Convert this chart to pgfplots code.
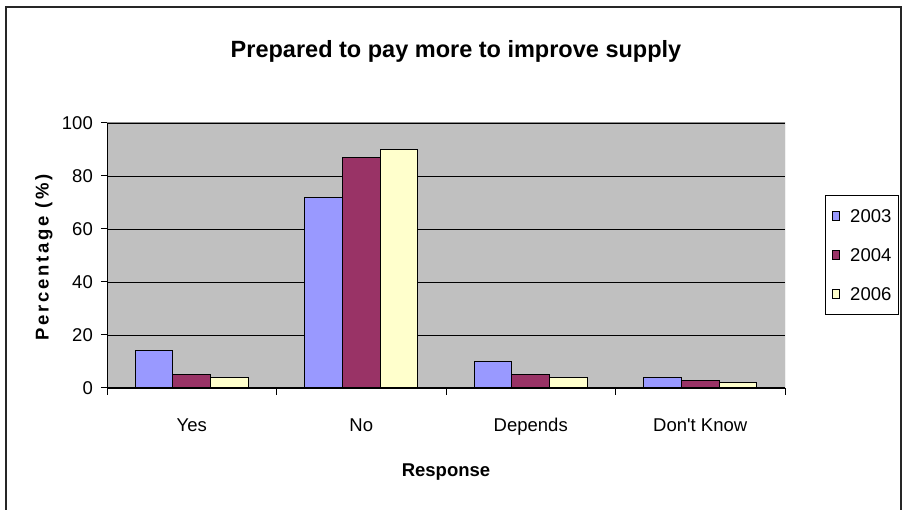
\documentclass[border=0pt]{standalone}
\usepackage{fontspec}
\setmainfont{Liberation Sans}
\usepackage{pgfplots}
\pgfplotsset{compat=1.18}

\definecolor{bgGray}{HTML}{C0C0C0}
\definecolor{c2003}{HTML}{9999FF}
\definecolor{c2004}{HTML}{993366}
\definecolor{c2006}{HTML}{FFFFCC}
\newcommand{\lbl}{\fontsize{18.5bp}{22bp}\selectfont}

\begin{document}
\begin{tikzpicture}
\useasboundingbox (0bp,0bp) rectangle (903bp,510bp);
% chart frame
\draw[line width=1.5bp, color=black!85] (6bp,0bp) -- (6bp,503bp) -- (901bp,503bp) -- (901bp,0bp);

\begin{axis}[
  at={(107bp,122bp)}, anchor=south west,
  scale only axis, width=678bp, height=265bp,
  xmin=-0.5, xmax=3.5, ymin=0, ymax=100,
  axis lines=left, axis line style={-, line width=1bp, black},
  axis background/.style={fill=bgGray},
  ybar=0pt, bar width=37.6bp,
  xtick={0,1,2,3},
  xticklabels={Yes, No, Depends, Don\textquotesingle t Know},
  minor xtick={-0.5,0.5,1.5,2.5,3.5},
  ytick={0,20,40,60,80,100},
  tick align=outside,
  major tick length=6bp, minor tick length=7bp,
  major x tick style={draw=none},
  tick style={black, line width=1bp},
  ymajorgrids, grid style={black, line width=0.9bp},
  /pgf/number format/assume math mode=true,
  tick label style={font=\lbl},
  xticklabel style={anchor=base, inner sep=0pt, yshift=-37bp},
  yticklabel style={inner sep=0pt, xshift=-8bp},
  legend style={
    at={(rel axis cs:1.059,0.7283)}, anchor=north west,
    draw=black, line width=0.8bp, fill=white,
    inner xsep=7bp, inner ysep=1bp, row sep=0pt, column sep=10bp,
    font=\lbl,
    nodes={inner xsep=0pt, inner ysep=13bp, text height=13bp, text depth=0bp},
  },
  legend cell align=left,
  legend image code/.code={\draw[#1, line width=0.8bp] (0bp,-4.5bp) rectangle (7bp,4.5bp);},
]
\addplot[fill=c2003, draw=black, line width=1bp] coordinates {(0,14) (1,72) (2,10) (3,4)};
\addplot[fill=c2004, draw=black, line width=1bp] coordinates {(0,5) (1,87) (2,5) (3,3)};
\addplot[fill=c2006, draw=black, line width=1bp] coordinates {(0,4) (1,90) (2,4) (3,2)};
\legend{2003, 2004, 2006}
% plot-area border on the top and right
\draw[color=black!45, line width=1bp] (rel axis cs:0,1) -- (rel axis cs:1,1) -- (rel axis cs:1,0);
\end{axis}

\node[anchor=base] at (456bp,452bp) {\fontsize{23.5bp}{27bp}\selectfont\bfseries Prepared to pay more to improve supply};
\node[anchor=base] at (446bp,34bp) {\lbl\bfseries Response};
\node[rotate=90, anchor=base] at (48.5bp,252.5bp) {\lbl\bfseries\addfontfeatures{LetterSpace=14.5}Percentage (\%)};
\end{tikzpicture}
\end{document}
